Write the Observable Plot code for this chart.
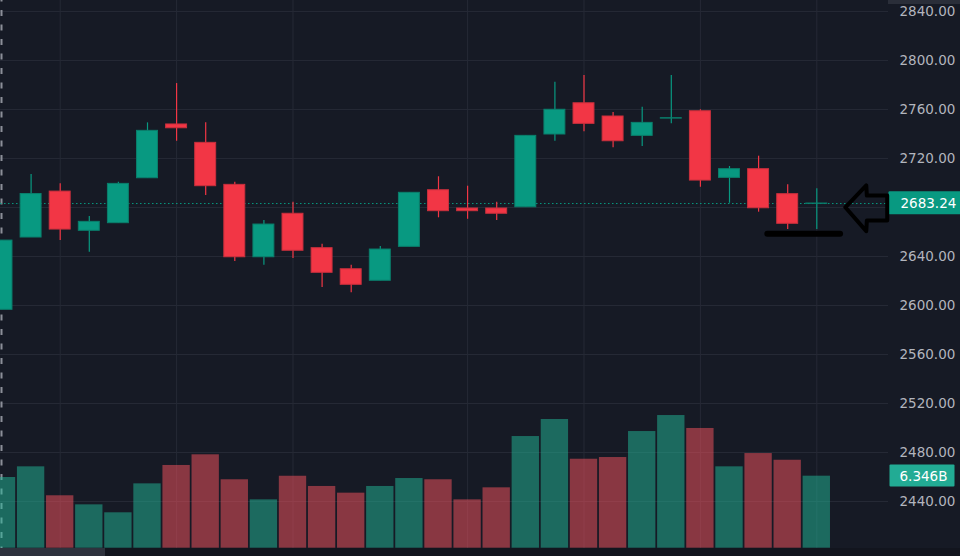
<!DOCTYPE html>
<html>
<head>
<meta charset="utf-8">
<script src="https://cdn.jsdelivr.net/npm/d3@7"></script>
<script src="https://cdn.jsdelivr.net/npm/@observablehq/plot@0.6"></script>
<style>
  html, body { margin: 0; padding: 0; background: #161a25; }
  #chart { position: relative; width: 960px; height: 556px; overflow: hidden; background: #161a25; }
  #chart svg { position: absolute; left: 0; top: 0; }
  .strip { position: absolute; }
</style>
</head>
<body>
<div id="chart"></div>
<script>
// ---- data ----
const candleIndex = d3.range(29);
const opens  = [2596.5, 2655.5, 2693.0, 2661.0, 2667.2, 2703.9, 2747.8, 2732.8, 2698.5, 2639.4,
                2674.9, 2646.8, 2629.6, 2620.2, 2647.9, 2694.1, 2679.2, 2679.2, 2680.2, 2739.6,
                2765.1, 2754.3, 2738.5, 2752.6, 2758.6, 2704.2, 2711.3, 2690.9, 2683.0];
const highs  = [2653.0, 2707.0, 2699.3, 2672.7, 2700.7, 2749.1, 2781.2, 2749.1, 2700.7, 2669.4,
                2684.3, 2650.0, 2632.9, 2648.2, 2692.0, 2705.1, 2697.4, 2684.3, 2738.5, 2782.3,
                2787.8, 2757.6, 2761.9, 2787.8, 2759.8, 2713.5, 2721.9, 2698.5, 2695.3];
const lows   = [2596.5, 2655.5, 2653.0, 2643.5, 2667.2, 2703.9, 2734.1, 2689.8, 2635.9, 2632.9,
                2638.4, 2614.7, 2610.4, 2620.2, 2647.9, 2671.6, 2670.4, 2669.4, 2680.2, 2734.1,
                2741.8, 2728.7, 2729.8, 2748.3, 2696.6, 2683.5, 2676.2, 2662.0, 2662.0];
const closes = [2653.0, 2691.0, 2662.0, 2668.3, 2699.3, 2742.6, 2744.7, 2697.4, 2639.4, 2666.1,
                2644.7, 2626.7, 2616.9, 2645.7, 2692.0, 2677.0, 2677.0, 2674.9, 2738.5, 2759.8,
                2748.3, 2734.1, 2749.1, 2752.9, 2702.0, 2711.3, 2679.4, 2666.7, 2683.24];
const volumes = [6.23, 7.17, 4.62, 3.82, 3.12, 5.67, 7.29, 8.23, 6.03, 4.26,
                 6.34, 5.44, 4.85, 5.44, 6.14, 6.03, 4.26, 5.32, 9.84, 11.34,
                 7.84, 7.99, 10.28, 11.69, 10.55, 7.17, 8.34, 7.75, 6.346]; // billions
const priceTicks  = [2440, 2480, 2520, 2560, 2600, 2640, 2680, 2720, 2760, 2800, 2840];
const priceLabels = [2440, 2480, 2520, 2560, 2600, 2640, 2720, 2760, 2800, 2840];
const timeGrid = [2, 6, 10, 16, 20, 24, 28];
const lastPrice = 2683.24;
const lastVolume = 6.346;
// hand-drawn annotations (in candle-index / price units)
const arrowPts = [
  {x: 28.98, y: 2680.2}, {x: 29.70, y: 2698.0}, {x: 29.72, y: 2689.8}, {x: 30.42, y: 2689.8},
  {x: 30.42, y: 2669.4}, {x: 29.72, y: 2669.4}, {x: 29.70, y: 2660.7}, {x: 28.98, y: 2680.2}
];
const underlinePts = [{x: 26.3, y: 2658.5}, {x: 28.8, y: 2658.5}];

// ---- build ----
const W = 960, H = 556;
const xDomain = [-0.0515, 30.464];
const GREEN = "#089981", RED = "#f23645";
const VGREEN = "#22ba99", VRED = "#fc545f";
const GRID = "#252935";
const candles = candleIndex.map(i => ({i, open: opens[i], high: highs[i], low: lows[i], close: closes[i], volume: volumes[i]}));
const isUp = d => d.close >= d.open;
const font = "DejaVu Sans";
const priceText = lastPrice.toFixed(2);
const volumeText = lastVolume.toFixed(3) + "B";

const pricePlot = Plot.plot({
  width: W, height: H,
  marginLeft: 0, marginRight: 72, marginTop: 0, marginBottom: 0,
  x: {domain: xDomain, axis: null},
  y: {domain: [2395.1, 2849.0], range: [H, 0], axis: null},
  style: {background: "transparent", fontFamily: font, fontSize: "13.5px", overflow: "visible"},
  marks: [
    Plot.gridY(priceTicks, {stroke: GRID, strokeOpacity: 1}),
    Plot.gridX(timeGrid, {stroke: GRID, strokeOpacity: 1}),
    Plot.ruleX([xDomain[0]], {dx: 1, stroke: "#8c8f99", strokeWidth: 2, strokeDasharray: "6,8.5", strokeDashoffset: 4.5}),
    Plot.ruleY([lastPrice], {stroke: GREEN, strokeDasharray: "1.5,2.5"}),
    Plot.ruleX(candles, {x: "i", y1: "low", y2: "high", stroke: d => isUp(d) ? GREEN : RED, strokeWidth: 1.2}),
    Plot.rect(candles, {x1: d => d.i - 0.36, x2: d => d.i + 0.36, y1: "open", y2: "close",
      fill: d => isUp(d) ? GREEN : RED, stroke: d => isUp(d) ? "#0a7f6c" : "#c9303d", strokeWidth: 1}),
    Plot.axisY(priceLabels, {anchor: "right", tickSize: 0, tickPadding: 11, textAnchor: "start",
      tickFormat: d => d.toFixed(2), fill: "#b2b5be", fontSize: 13.5, fontFamily: font}),
    Plot.text([lastPrice], {frameAnchor: "right", y: d => d, dx: 12, textAnchor: "start",
      text: () => priceText, fill: "#ffffff", fontSize: 13.5, fontFamily: font}),
    Plot.line(arrowPts, {x: "x", y: "y", stroke: "#000", strokeWidth: 4, strokeLinejoin: "round", curve: "linear"}),
    Plot.line(underlinePts, {x: "x", y: "y", stroke: "#000", strokeWidth: 6, strokeLinecap: "round"})
  ]
});

const volumePlot = Plot.plot({
  width: W, height: H,
  marginLeft: 0, marginRight: 72, marginTop: 0, marginBottom: 0,
  x: {domain: xDomain, axis: null},
  y: {domain: [0, 48.26], range: [547.7, 0], axis: null},
  style: {background: "transparent", fontFamily: font, fontSize: "13.5px", overflow: "visible"},
  marks: [
    Plot.rect(candles, {x1: d => d.i - 0.47, x2: d => d.i + 0.47, y1: 0, y2: "volume",
      fill: d => isUp(d) ? VGREEN : VRED, fillOpacity: 0.5}),
    Plot.text([lastVolume], {frameAnchor: "right", y: d => d, dx: 11, textAnchor: "start",
      text: () => volumeText, fill: "#ffffff", fontSize: 13.5, fontFamily: font})
  ]
});

const chart = document.getElementById("chart");
chart.appendChild(pricePlot);
chart.appendChild(volumePlot);

// label boxes behind the last-value texts on the price scale
function addBox(svg, label, padLeft, width, height, fill) {
  const t = Array.from(svg.querySelectorAll("text")).find(e => e.textContent.trim() === label);
  if (!t) return;
  const b = t.getBBox();
  const cy = b.y + b.height / 2;
  const r = document.createElementNS("http://www.w3.org/2000/svg", "rect");
  r.setAttribute("x", b.x - padLeft);
  r.setAttribute("y", cy - height / 2);
  r.setAttribute("width", width);
  r.setAttribute("height", height);
  r.setAttribute("fill", fill);
  r.setAttribute("rx", 1);
  const tr = t.getAttribute("transform");
  if (tr) r.setAttribute("transform", tr);
  t.parentNode.insertBefore(r, t);
}
addBox(pricePlot, priceText, 12, 80, 23, GREEN);
addBox(volumePlot, volumeText, 10, 65, 22, "#22ab94");

// chart chrome
function strip(left, top, w, h, color) {
  const d = document.createElement("div");
  d.className = "strip";
  Object.assign(d.style, {left: left + "px", top: top + "px", width: w + "px", height: h + "px", background: color});
  chart.appendChild(d);
}
strip(0, 548, 960, 8, "#12151e");
strip(0, 548, 105, 8, "#2e323d");
strip(888, 0, 72, 4, "#2a2e39");
</script>
</body>
</html>
